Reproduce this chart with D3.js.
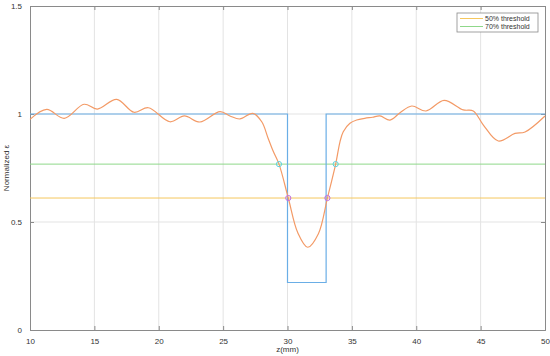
<!DOCTYPE html>
<html>
<head>
<meta charset="utf-8">
<script src="https://cdn.jsdelivr.net/npm/d3@7"></script>
<style>
  body { margin: 0; background: #fff; }
  text { font-family: "Liberation Sans", Arial, sans-serif; fill: #333; }
</style>
</head>
<body>
<div id="chart"></div>
<script>
// measured profile (orange curve)
const zPos = [10, 11.3, 12.66, 14.2, 15.23, 16.73, 18.08, 19.19, 20.87, 21.99, 23.2, 24.76, 25.53, 26.3, 27.3,
  28.0, 28.5, 28.9, 29.34, 30.06, 30.8, 31.57, 32.4, 33.1, 33.74, 34.08, 34.33, 34.85,
  35.37, 36.0, 36.6, 37.18, 37.96, 38.74, 39.65, 40.76, 42.16, 43.65, 44.43, 45.2, 46.37, 47.67, 48.45, 50];
const epsVal = [0.975, 1.021, 0.98, 1.045, 1.023, 1.068, 1.008, 1.029, 0.964, 0.991, 0.963, 1.011, 0.991, 0.977, 1.003,
  0.964, 0.887, 0.826, 0.768, 0.611, 0.45, 0.383, 0.446, 0.611, 0.768, 0.872, 0.918, 0.957,
  0.972, 0.98, 0.985, 0.991, 0.972, 1.006, 1.037, 1.014, 1.063, 1.019, 1.014, 0.95, 0.875, 0.91, 0.917, 0.991];

// reference step (blue)
const stepZ = [10, 30, 30, 33, 33, 50];
const stepVal = [1, 1, 0.22, 0.22, 1, 1];

// thresholds
const thresholds = ["50% threshold", "70% threshold"];
const thresholdVal = [0.611, 0.768];
const thresholdColors = ["#f5c75e", "#8fd88a"];

// crossing points
const cross50Z = [30.06, 33.1];
const cross70Z = [29.34, 33.74];

const xTicks = [10, 15, 20, 25, 30, 35, 40, 45, 50];
const yTicks = [0, 0.5, 1, 1.5];

const margin = {top: 6, right: 5, bottom: 26, left: 30};
const width = 550 - margin.left - margin.right;
const height = 356 - margin.top - margin.bottom;

const svg = d3.select("#chart").append("svg")
  .attr("width", 550).attr("height", 356)
  .append("g")
  .attr("transform", `translate(${margin.left},${margin.top})`);

const x = d3.scaleLinear().domain([10, 50]).range([0, width]);
const y = d3.scaleLinear().domain([0, 1.5]).range([height, 0]);

// grid
svg.append("g").selectAll("line").data(xTicks.slice(1, -1)).enter().append("line")
  .attr("x1", d => x(d)).attr("x2", d => x(d)).attr("y1", 0).attr("y2", height)
  .attr("stroke", "#e3e3e3").attr("stroke-width", 1);
svg.append("g").selectAll("line").data(yTicks.slice(1, -1)).enter().append("line")
  .attr("y1", d => y(d)).attr("y2", d => y(d)).attr("x1", 0).attr("x2", width)
  .attr("stroke", "#e3e3e3").attr("stroke-width", 1);

// axes
const xAxis = svg.append("g").attr("transform", `translate(0,${height})`)
  .call(d3.axisBottom(x).tickValues(xTicks).tickSize(-4).tickPadding(8));
const xTop = svg.append("g")
  .call(d3.axisTop(x).tickValues(xTicks).tickSize(-4).tickFormat(""));
const yAxis = svg.append("g")
  .call(d3.axisLeft(y).tickValues(yTicks).tickSize(-4).tickPadding(8).tickFormat(d3.format("")));
const yRight = svg.append("g").attr("transform", `translate(${width},0)`)
  .call(d3.axisRight(y).tickValues(yTicks).tickSize(-4).tickFormat(""));
[xAxis, xTop, yAxis, yRight].forEach(a => {
  a.select(".domain").attr("stroke", "#8a8a8a");
  a.selectAll(".tick line").attr("stroke", "#8a8a8a");
  a.selectAll("text").style("font-family", "Liberation Sans, Arial, sans-serif").style("font-size", "8px").attr("fill", "#333");
});

// threshold lines
svg.append("g").selectAll("line").data(thresholdVal).enter().append("line")
  .attr("x1", 0).attr("x2", width)
  .attr("y1", d => y(d)).attr("y2", d => y(d))
  .attr("stroke", (d, i) => thresholdColors[i]).attr("stroke-width", 1);

// step
const stepLine = d3.line().x(d => x(d[0])).y(d => y(d[1]));
svg.append("path")
  .datum(stepZ.map((z, i) => [z, stepVal[i]]))
  .attr("d", stepLine).attr("fill", "none")
  .attr("stroke", "#6aaee6").attr("stroke-width", 1.2);

// profile
const curve = d3.line().x(d => x(d[0])).y(d => y(d[1])).curve(d3.curveCatmullRom.alpha(0.5));
svg.append("path")
  .datum(zPos.map((z, i) => [z, epsVal[i]]))
  .attr("d", curve).attr("fill", "none")
  .attr("stroke", "#f39a66").attr("stroke-width", 1.2);

// crossing markers
svg.append("g").selectAll("circle").data(cross70Z).enter().append("circle")
  .attr("cx", d => x(d)).attr("cy", y(thresholdVal[1])).attr("r", 2.6)
  .attr("fill", "none").attr("stroke", "#5fd0de").attr("stroke-width", 1);
svg.append("g").selectAll("circle").data(cross50Z).enter().append("circle")
  .attr("cx", d => x(d)).attr("cy", y(thresholdVal[0])).attr("r", 2.6)
  .attr("fill", "none").attr("stroke", "#c070e0").attr("stroke-width", 1);

// labels
svg.append("text").attr("x", width / 2).attr("y", height + 22)
  .attr("text-anchor", "middle").style("font-size", "8px").text("z(mm)");
svg.append("text").attr("transform", `translate(${-21},${height / 2}) rotate(-90)`)
  .attr("text-anchor", "middle").style("font-size", "8px").text("Normalized ε");

// legend
const lg = svg.append("g").attr("transform", `translate(${width - 88},${7})`);
lg.append("rect").attr("width", 81).attr("height", 19)
  .attr("fill", "#fff").attr("stroke", "#8a8a8a").attr("stroke-width", 0.8);
thresholds.forEach((t, i) => {
  lg.append("line").attr("x1", 3).attr("x2", 26).attr("y1", 5.5 + i * 8).attr("y2", 5.5 + i * 8)
    .attr("stroke", thresholdColors[i]).attr("stroke-width", 1);
  lg.append("text").attr("x", 28).attr("y", 8 + i * 8).style("font-size", "7px").text(t);
});
</script>
</body>
</html>
